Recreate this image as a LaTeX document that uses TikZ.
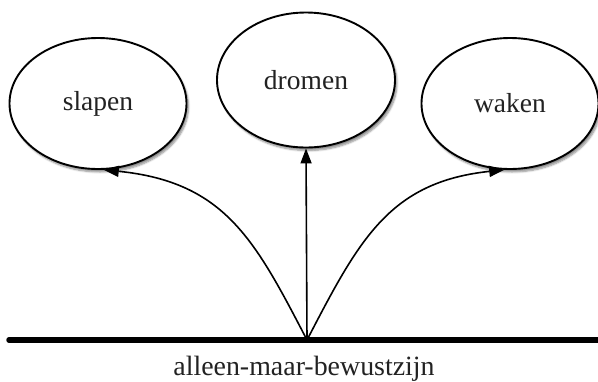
\documentclass[tikz,border=0pt]{standalone}
\usepackage{fontspec}
\setmainfont{Liberation Serif}
\usetikzlibrary{arrows.meta,shapes.geometric,shadows.blur}
\definecolor{labelgray}{HTML}{222222}
\begin{document}
\begin{tikzpicture}[x=1pt,y=-1pt,
  state/.style={ellipse,draw=black,line width=1.9pt,fill=white,
    minimum width=177pt,minimum height=131pt,inner sep=0pt,
    text=labelgray,font=\fontsize{27.5}{32}\selectfont,
    blur shadow={shadow xshift=2pt,shadow yshift=-3pt,shadow blur steps=6,shadow opacity=45}},
  link/.style={line width=1.6pt,-{Triangle[length=15pt,width=11pt]}},
  ground/.style={line width=5.5pt,line cap=round}]
\useasboundingbox (0,0) rectangle (598,381);
\node[state] (slapen) at (98,103.5) {slapen};
\node[state,minimum width=178pt,minimum height=135pt] (dromen) at (306,80) {dromen};
\node[state] (waken) at (510,103.5) {waken};
\coordinate (left) at (9,340);
\coordinate (right) at (605,340);
\coordinate (root) at (307,340);
\draw[ground] (left) -- (right);
\node[text=labelgray,font=\fontsize{27.9}{32}\selectfont,anchor=base] (label) at (304,375) {alleen-maar-bewustzijn};
\draw[link] (root) .. controls (255,240) and (225,182) .. (slapen.-85);
\draw[link] (root) -- (dromen.south);
\draw[link] (root) .. controls (359,240) and (389,182) .. (waken.-95);
\end{tikzpicture}
\end{document}
